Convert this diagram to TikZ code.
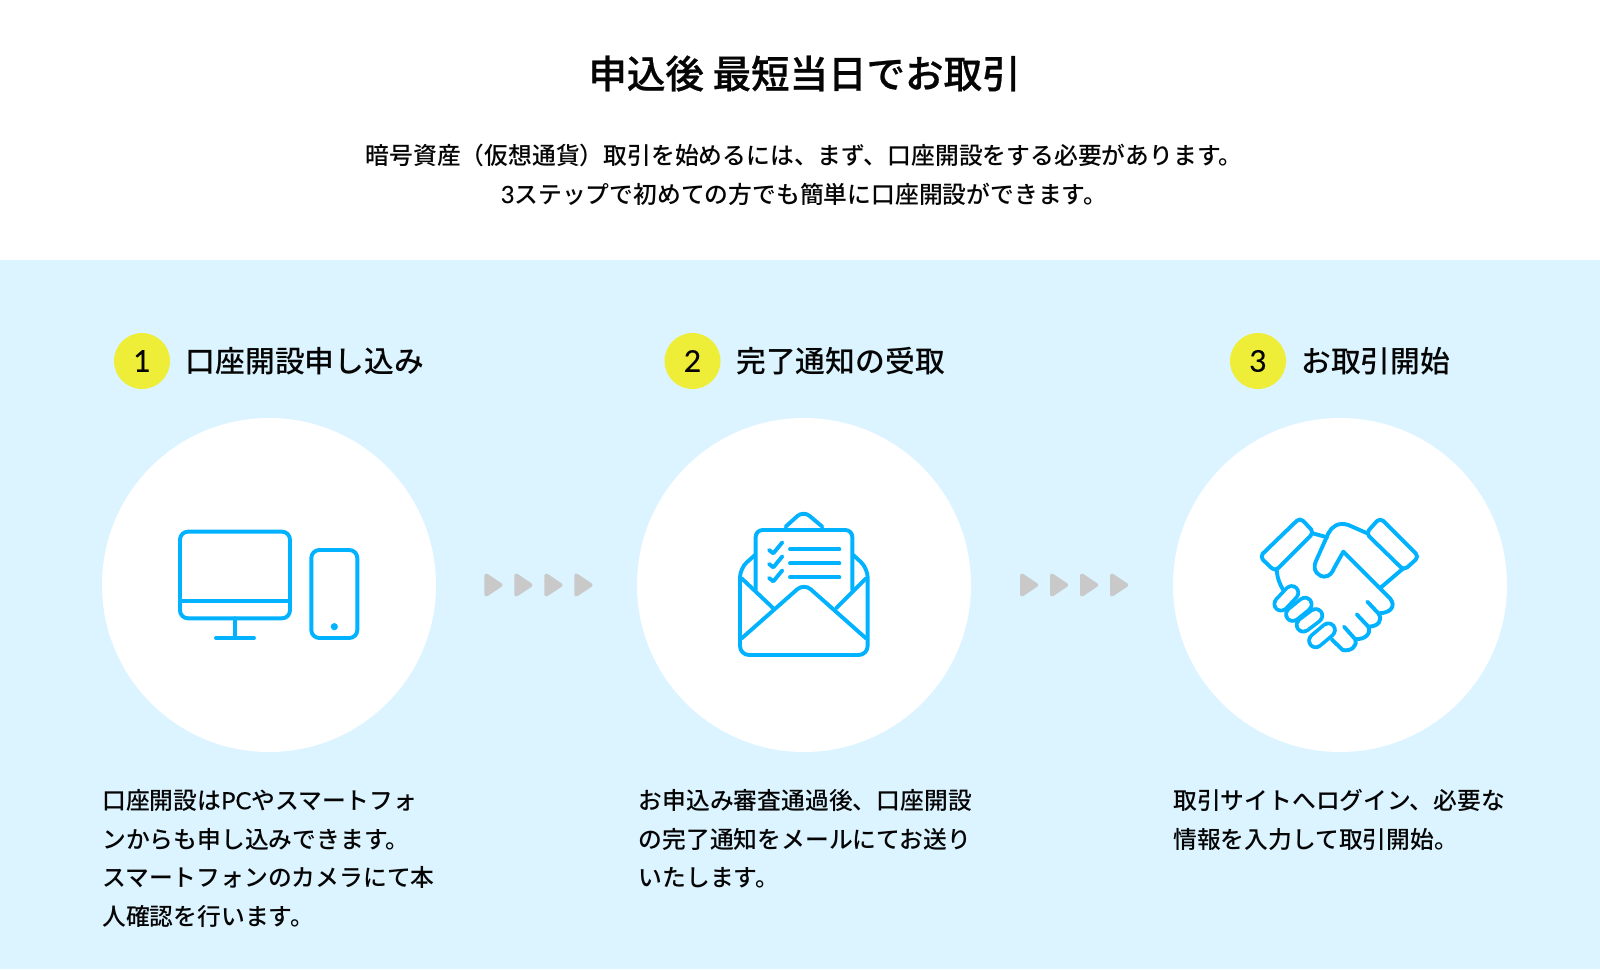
\documentclass[tikz,border=0pt]{standalone}
\usepackage{fontspec}
\setmainfont{Noto Sans CJK JP}
\newfontfamily\latinfont{Lato}
\newfontfamily\latinmed{Lato}[FakeBold=0.2]
\newfontfamily\cjkmed{Noto Sans CJK JP Medium}
\newfontfamily\cjktitle{Noto Sans CJK JP Medium}[FakeBold=0.6]
\definecolor{pagebg}{HTML}{DCF4FF}
\definecolor{iconblue}{HTML}{00B2FF}
\definecolor{badge}{HTML}{EEEE38}
\definecolor{arrowgrey}{HTML}{C9C9C9}
\definecolor{ink}{HTML}{050505}
\tikzset{
  disc/.style={circle,fill=white,minimum size=334pt,inner sep=0pt},
  badgenode/.style={circle,fill=badge,minimum size=56pt,inner sep=0pt,text=ink,font=\fontsize{30pt}{30pt}\latinmed},
  headtext/.style={anchor=west,inner sep=0pt,text=ink,font=\fontsize{29.8pt}{30pt}\cjkmed},
  desc/.style={anchor=north west,inner sep=0pt,align=left,text=ink,font=\fontsize{23.8pt}{38.8pt}\cjkmed},
  lead/.style={inner sep=0pt,align=center,text=ink,font=\fontsize{23.8pt}{38.8pt}\cjkmed},
  icon/.style={draw=iconblue,line width=3.9pt,line cap=round,line join=round},
  tri/.style={fill=arrowgrey,draw=arrowgrey,line width=4pt,line join=round},
}
\begin{document}
\begin{tikzpicture}[x=1pt,y=-1pt]
\useasboundingbox (0,0) rectangle (1600,969);
\fill[white] (0,0) rectangle (1600,260);
\fill[pagebg] (0,260) rectangle (1600,969);

\node[inner sep=0pt,text=ink,font=\fontsize{38.5pt}{40pt}\cjktitle] (title) at (804.5,73.5) {申込後 最短当日でお取引};
\node[lead] (leadtext) at (804,174.5) {暗号資産（仮想通貨）取引を始めるには、まず、口座開設をする必要があります。\\{\latinmed 3}ステップで初めての方でも簡単に口座開設ができます。};

\node[badgenode] (b1) at (142,361) {1};
\node[badgenode] (b2) at (692.5,361) {2};
\node[badgenode] (b3) at (1258,361) {3};
\node[headtext] (h1) at (185.5,361) {口座開設申し込み};
\node[headtext] (h2) at (736,361) {完了通知の受取};
\node[headtext] (h3) at (1301,361) {お取引開始};

\node[disc] (c1) at (269,585) {};
\node[disc] (c2) at (804,585) {};
\node[disc] (c3) at (1340,585) {};

\node[desc] (d1) at (102,789) {口座開設は{\latinmed PC}やスマートフォ\\ンからも申し込みできます。\\スマートフォンのカメラにて本\\人確認を行います。};
\node[desc] (d2) at (638.5,789) {お申込み審査通過後、口座開設\\の完了通知をメールにてお送り\\いたします。};
\node[desc] (d3) at (1173,789) {取引サイトへログイン、必要な\\情報を入力して取引開始。};

% arrows
\foreach \x in {0,30,60,90}{
  \fill[tri] (486.3+\x,575.5) -- (500.5+\x,585) -- (486.3+\x,594.5) -- cycle;
  \fill[tri] (1022+\x,575.5) -- (1036.2+\x,585) -- (1022+\x,594.5) -- cycle;
}

% devices icon
\begin{scope}[shift={(150,500)},x=0.3333pt,y=-0.3333pt]
  \draw[icon,rounded corners=8pt] (90,95) rectangle (420,355);
  \draw[icon] (90,302) -- (420,302);
  \draw[icon] (255,355) -- (255,414);
  \draw[icon] (198,414) -- (312,414);
  \draw[icon,rounded corners=8pt] (484,150) rectangle (622,414);
  \fill[iconblue] (553,380) circle (3.6pt);
\end{scope}

% envelope icon
\begin{scope}[shift={(720,500)},x=0.3333pt,y=-0.3333pt]
  \draw[icon,rounded corners=9pt] (105,165) -- (60,205) -- (60,465) -- (443,465) -- (443,205) -- (400,165);
  \draw[icon,rounded corners=9pt] (65,415) -- (252,250) -- (438,415);
  \draw[icon] (65,235) -- (160,325);
  \draw[icon] (438,235) -- (348,325);
  \draw[icon,rounded corners=7pt] (107,270) -- (107,90) -- (397,90) -- (397,270);
  \draw[icon,rounded corners=8pt] (197,80) -- (250,32) -- (307,80);
  \foreach \y in {0,42,84}{
    \draw[icon] (147,150+\y) -- (160,160+\y) -- (187,127+\y);
    \draw[icon] (210,148+\y) -- (358,148+\y);
  }
\end{scope}

% handshake icon
\begin{scope}[shift={(1250,505)},x=0.3333pt,y=-0.3333pt]
  \draw[icon,rounded corners=4.5pt] (150,38) -- (192,82) -- (75,199) -- (29,155) -- cycle;
  \draw[icon,rounded corners=4.5pt] (390,38) -- (507,155) -- (462,196) -- (348,85) -- cycle;
  \draw[icon] (188,85) -- (232,97);
  \draw[icon] (392,248) -- (460,190);
  \draw[icon] (352,85) -- (295,60) .. controls (265,50) and (245,65) .. (235,85) -- (197,170) .. controls (185,200) and (210,215) .. (222,215) .. controls (240,215) and (248,200) .. (252,190) -- (280,140) -- (420,280) .. controls (440,305) and (420,325) .. (385,325);
  \draw[icon] (352,290) -- (385,325) .. controls (400,345) and (385,365) .. (355,365);
  \draw[icon] (320,328) -- (355,365) .. controls (365,385) and (345,405) .. (315,402);
  \draw[icon] (282,365) -- (315,402) .. controls (325,425) and (300,440) .. (278,435) -- (245,403);
  \draw[icon] (80,195) .. controls (82,220) and (90,240) .. (100,255);
  \foreach \ax/\ay/\bx/\by in {93/297/125/263, 128/328/165/298, 160/360/197/332, 197/407/235/375}{
    \draw[iconblue,line width=17pt,line cap=round] (\ax,\ay) -- (\bx,\by);
    \draw[white,line width=9.6pt,line cap=round] (\ax,\ay) -- (\bx,\by);
  }
\end{scope}
\end{tikzpicture}
\end{document}
